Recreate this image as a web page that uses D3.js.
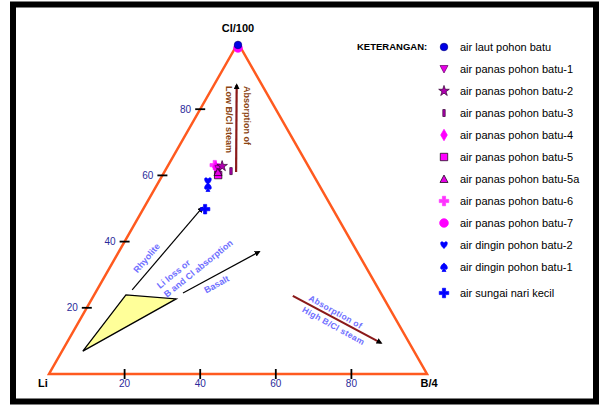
<!DOCTYPE html>
<html>
  <head>
    <meta http-equiv="Content-Type" content="text/html;charset=utf-8"/>
    <title>Diagram Cl-Li-B</title>
    <script src="https://d3js.org/d3.v7.min.js"></script>
  </head>
  <body>
    <style>
      body { margin: 0; background: #fff; }
      svg text { font-family: "Liberation Sans", Arial, sans-serif; }
    </style>
    <script type="text/javascript">

        // sample names and ternary values (percent Cl/100, B/4, Li)
        const samples = ['air laut pohon batu', 'air panas pohon batu-1', 'air panas pohon batu-2',
            'air panas pohon batu-3', 'air panas pohon batu-4', 'air panas pohon batu-5',
            'air panas pohon batu-5a', 'air panas pohon batu-6', 'air panas pohon batu-7',
            'air dingin pohon batu-2', 'air dingin pohon batu-1', 'air sungai nari kecil']
        const clVals = [99.4, 61.9, 62.8, 61.3, 62.5, 60.1, 61.0, 63.1, 98.5, 58.3, 56.5, 49.8]
        const bVals  = [0.3, 14.0, 14.4, 17.5, 12.9, 14.7, 14.2, 12.3, 0.75, 12.9, 13.8, 16.4]
        const liVals = clVals.map((c, i) => +(100 - c - bVals[i]).toFixed(2))

        const ticks = [20, 40, 60, 80]

        // reference field (Cl, B) corners
        const fieldCl = [6.9, 23.9, 22.7]
        const fieldB  = [5.5, 8.4, 22.3]

        // trend arrows: [Cl start, B start, Cl end, B end]
        const arrowRhyolite = [25.4, 9.3, 50.2, 15.4]
        const arrowBasalt   = [24.5, 23.2, 36.9, 37.1]
        const arrowLowB     = [61.0, 19.0, 87.3, 6.0]
        const arrowHighB    = [23.6, 52.7, 9.4, 83.1]

        const width = 600, height = 405
        const x0 = 49, baseY = 374, W = 378, H = 331

        const svg = d3.select("body").append("svg")
            .attr("width", width)
            .attr("height", height)

        const sB = d3.scaleLinear().domain([0, 100]).range([0, W])
        const sCl = d3.scaleLinear().domain([0, 100]).range([0, H])
        const px = (cl, b) => x0 + sB(b) + sB(cl) / 2
        const py = (cl) => baseY - sCl(cl)

        // frame
        svg.append("rect")
            .attr("x", 13).attr("y", 4.5)
            .attr("width", 583).attr("height", 397)
            .attr("fill", "none").attr("stroke", "#000").attr("stroke-width", 6)

        // field polygon
        svg.append("polygon")
            .attr("points", fieldCl.map((c, i) => [px(c, fieldB[i]), py(c)].join(",")).join(" "))
            .attr("fill", "#ffff99").attr("stroke", "#000").attr("stroke-width", 1.3)

        // main triangle
        const corners = [[0, 0], [0, 100], [100, 0]]
        svg.append("polygon")
            .attr("points", corners.map(d => [px(d[0], d[1]), py(d[0])].join(",")).join(" "))
            .attr("fill", "none").attr("stroke", "#ff5a1f").attr("stroke-width", 2.5)

        // ticks bottom (B/4)
        ticks.forEach(t => {
            svg.append("line")
                .attr("x1", px(0, t)).attr("x2", px(0, t))
                .attr("y1", baseY - 5).attr("y2", baseY + 5)
                .attr("stroke", "#000").attr("stroke-width", 1.8)
            svg.append("text")
                .attr("x", px(0, t)).attr("y", baseY + 13)
                .attr("text-anchor", "middle")
                .attr("font-size", 10).attr("fill", "#2a2a9a")
                .text(t)
        })
        // ticks left (Cl/100)
        ticks.forEach(t => {
            svg.append("line")
                .attr("x1", px(t, 0) - 5).attr("x2", px(t, 0) + 5)
                .attr("y1", py(t)).attr("y2", py(t))
                .attr("stroke", "#000").attr("stroke-width", 1.8)
            svg.append("text")
                .attr("x", px(t, 0) - 9).attr("y", py(t) + 3.5)
                .attr("text-anchor", "end")
                .attr("font-size", 10).attr("fill", "#2a2a9a")
                .text(t)
        })

        // corner labels
        svg.append("text").attr("x", px(100, 0)).attr("y", 32)
            .attr("text-anchor", "middle").attr("font-size", 11).attr("font-weight", "bold")
            .text("Cl/100")
        svg.append("text").attr("x", px(0, 0) - 6).attr("y", 387)
            .attr("text-anchor", "middle").attr("font-size", 11).attr("font-weight", "bold")
            .text("Li")
        svg.append("text").attr("x", px(0, 100) + 2).attr("y", 387)
            .attr("text-anchor", "middle").attr("font-size", 11).attr("font-weight", "bold")
            .text("B/4")

        // arrow head, fixed size
        const defs = svg.append("defs")
        defs.append("marker").attr("id", "head")
            .attr("viewBox", "0 0 10 10").attr("refX", 7).attr("refY", 5)
            .attr("markerUnits", "userSpaceOnUse")
            .attr("markerWidth", 6).attr("markerHeight", 6).attr("orient", "auto")
            .append("path").attr("d", "M0,0 L10,5 L0,10 Z").attr("fill", "#000")

        function arrow(a, color, w) {
            svg.append("line")
                .attr("x1", px(a[0], a[1])).attr("y1", py(a[0]))
                .attr("x2", px(a[2], a[3])).attr("y2", py(a[2]))
                .attr("stroke", color).attr("stroke-width", w)
                .attr("marker-end", "url(#head)")
        }
        arrow(arrowRhyolite, "#000", 1.2)
        arrow(arrowBasalt, "#000", 1.2)
        arrow(arrowLowB, "#8b1a1a", 2.2)
        arrow(arrowHighB, "#8b1a1a", 2.2)

        // annotations
        function note(x, y, angle, lines, color, anchor, size, gap, spacing) {
            const t = svg.append("text")
                .attr("transform", `translate(${x},${y}) rotate(${angle})`)
                .attr("text-anchor", anchor || "middle")
                .attr("font-size", size || 9).attr("font-weight", "bold")
                .attr("letter-spacing", spacing || 0)
                .attr("fill", color)
            lines.forEach((l, i) => {
                t.append("tspan").attr("x", 0).attr("dy", i === 0 ? 0 : (gap || "1.25em")).text(l)
            })
        }
        const lav = "#6f6fff"
        note(149, 260, -50, ["Rhyolite"], lav)
        note(160, 289, -39, ["Li loss or", "B and Cl absorption"], lav, "start")
        note(218, 287, -29, ["Basalt"], lav)
        note(308, 300, 29, ["Absorption of", "High B/Cl steam"], lav, "start", 8.5, "1.55em", 0.3)
        note(244, 86, 90, ["Absorption of", "Low B/Cl steam"], "#8b4513", "start", 9, "2em")

        // marker shapes
        const heart = "M0,3.5 C-5.5,-1 -3.2,-5.5 0,-2 C3.2,-5.5 5.5,-1 0,3.5Z"
        const spade = "M0,-4 C-5.5,0 -3.2,4 -0.5,1.6 L-2,4.5 L2,4.5 L0.5,1.6 C3.2,4 5.5,0 0,-4Z"
        const sym = (type, size) => d3.symbol().type(type).size(size)()
        const shapes = [
            { d: sym(d3.symbolCircle, 45), fill: "#0000e6", stroke: "#00008b" },
            { d: "M-4,-3.5 L4,-3.5 L0,4 Z", fill: "#e600e6", stroke: "#660066" },
            { d: sym(d3.symbolStar, 35), fill: "#b000b0", stroke: "#300030" },
            { d: "M-1.2,-3.5 L1.2,-3.5 L1.2,3.5 L-1.2,3.5 Z", fill: "#b000b0", stroke: "#300030" },
            { d: sym(d3.symbolDiamond, 38), fill: "#ff00ff", stroke: "#ff00ff" },
            { d: sym(d3.symbolSquare, 55), fill: "#ff00ff", stroke: "#000" },
            { d: "M0,-4 L4,3.5 L-4,3.5 Z", fill: "#e600e6", stroke: "#000" },
            { d: sym(d3.symbolCross, 50), fill: "#ff33ff", stroke: "#ff33ff" },
            { d: sym(d3.symbolCircle, 60), fill: "#ff00ff", stroke: "#ff00ff" },
            { d: heart, fill: "#0000ff", stroke: "#0000ff" },
            { d: spade, fill: "#0000ff", stroke: "#0000ff" },
            { d: sym(d3.symbolCross, 50), fill: "#0000ff", stroke: "#0000ff" }
        ]

        // draw points (back to front so the sea water sits on top of batu-7)
        const order = [8, 7, 4, 1, 5, 6, 2, 3, 9, 10, 11, 0]
        svg.append("g").selectAll("path")
            .data(order)
            .enter()
            .append("path")
            .attr("d", i => shapes[i].d)
            .attr("transform", i => `translate(${px(clVals[i], bVals[i])},${py(clVals[i])})`)
            .attr("fill", i => shapes[i].fill)
            .attr("stroke", i => shapes[i].stroke)
            .attr("stroke-width", 0.7)

        // legend
        svg.append("text").attr("x", 357).attr("y", 50)
            .attr("font-size", 9.5).attr("font-weight", "bold")
            .text("KETERANGAN:")
        const legendY = i => 47 + i * 22 + (i === samples.length - 1 ? 4 : 0)
        const legend = svg.append("g").selectAll("g")
            .data(samples)
            .enter()
            .append("g")
            .attr("transform", (d, i) => `translate(444,${legendY(i)})`)
        legend.append("path")
            .attr("d", (d, i) => shapes[i].d)
            .attr("fill", (d, i) => shapes[i].fill)
            .attr("stroke", (d, i) => shapes[i].stroke)
            .attr("stroke-width", 0.7)
        legend.append("text")
            .attr("x", 16).attr("y", 4)
            .attr("font-size", 11)
            .text(d => d)

    </script>
  </body>
</html>
